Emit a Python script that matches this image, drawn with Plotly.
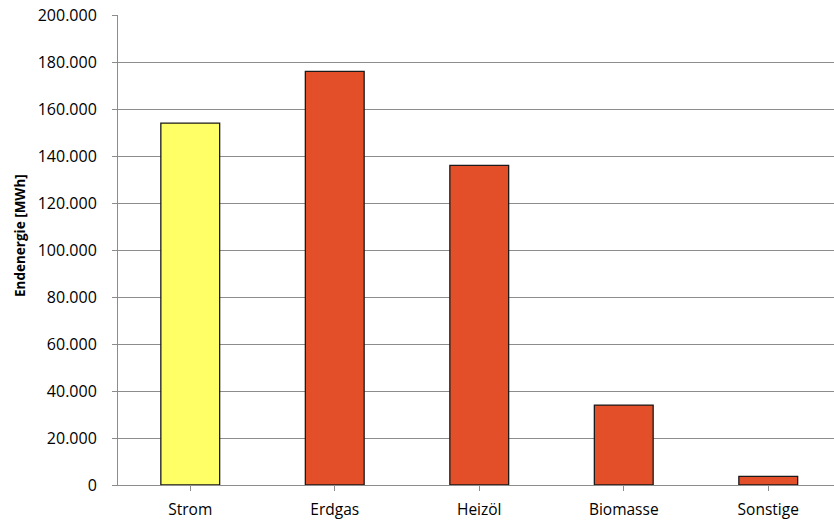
import plotly.graph_objects as go

categories = ["Strom", "Erdgas", "Heizöl", "Biomasse", "Sonstige"]
values = [154000, 176000, 136000, 34000, 3700]
bar_colors = ["#FFFF66", "#E24F28", "#E24F28", "#E24F28", "#E24F28"]
y_title = "Endenergie [MWh]"

FONT = "Open Sans"
W, H = 834, 524
ML, MR, MT, MB = 118, 0, 15, 39
PW, PH = W - ML - MR, H - MT - MB

fig = go.Figure(
    go.Bar(
        x=list(range(len(categories))),
        y=values,
        width=0.407,
        marker=dict(color=bar_colors, line=dict(color="#1a1a1a", width=1.3)),
        hoverinfo="skip",
    )
)

fig.update_layout(
    width=W,
    height=H,
    margin=dict(l=ML, r=MR, t=MT, b=MB),
    paper_bgcolor="white",
    plot_bgcolor="white",
    separators=",.",
    showlegend=False,
    font=dict(family=FONT, color="#000000", size=15),
)

fig.update_xaxes(
    range=[-0.5, 4.455],
    tickmode="array",
    tickvals=list(range(len(categories))),
    ticktext=categories,
    tickson="boundaries",
    ticks="outside",
    ticklen=5,
    tickcolor="#8c8c8c",
    tickwidth=1,
    showline=True,
    linecolor="#8c8c8c",
    linewidth=1,
    showgrid=False,
    zeroline=False,
    ticklabelstandoff=5,
    tickfont=dict(family=FONT, size=15.5),
)

fig.update_yaxes(
    range=[0, 200000],
    dtick=20000,
    tick0=0,
    tickformat=",.0f",
    ticks="outside",
    ticklen=5,
    tickcolor="#8c8c8c",
    showline=True,
    linecolor="#8c8c8c",
    linewidth=1,
    showgrid=True,
    gridcolor="#8c8c8c",
    gridwidth=1,
    zeroline=False,
    ticklabelstandoff=12,
    tickfont=dict(family=FONT, size=16),
)

fig.add_annotation(
    text="<b>" + y_title + "</b>",
    xref="paper",
    yref="paper",
    x=(20 - ML) / PW,
    y=(H - MB - 236) / PH,
    xanchor="center",
    yanchor="middle",
    textangle=-90,
    showarrow=False,
    font=dict(family=FONT, size=13.5, color="#000000"),
)

fig.write_html("out.html")
